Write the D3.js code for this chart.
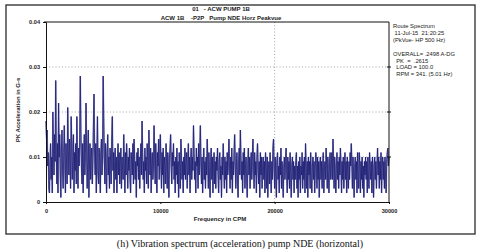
<!DOCTYPE html>
<html><head><meta charset="utf-8">
<script src="https://cdn.jsdelivr.net/npm/d3@7"></script>
<style>
html,body{margin:0;padding:0;background:#fff;}
svg{display:block;}
</style></head>
<body>
<svg id="c" width="480" height="249"></svg>
<script>
// ---- data ----
const titleLines = ["01   - ACW PUMP 1B", "ACW 1B    -P2P   Pump NDE Horz Peakvue"];
const infoLines = ["Route Spectrum", " 11-Jul-15  21:20:25", "(PkVue- HP 500 Hz)", "", "OVERALL= .2498 A-DG", "  PK  =  .2615", "  LOAD = 100.0", "  RPM = 341. (5.01 Hz)"];
const yTicks = [0, 0.01, 0.02, 0.03, 0.04];
const yTickLabels = ["0", "0.01", "0.02", "0.03", "0.04"];
const xTicks = [0, 10000, 20000, 30000];
const xTickLabels = ["0", "10000", "20000", "30000"];
const freqStartCPM = 0, freqStepCPM = 50;
// PK acceleration (G-s) per spectral line
const accel = [
.018,.014,.016,.008,.011,.003,.002,.009,.013,.005,.010,.002,.020,.012,.006,.015,.009,.027,.011,.004,
.013,.002,.022,.010,.015,.006,.001,.012,.016,.007,.003,.011,.017,.009,.002,.013,.008,.004,.021,.012,
.006,.014,.010,.003,.019,.013,.005,.009,.015,.002,.011,.007,.013,.004,.019,.010,.003,.012,.008,.014,
.028,.016,.008,.004,.013,.002,.010,.015,.006,.011,.022,.012,.003,.009,.016,.001,.008,.013,.005,.010,
.012,.004,.009,.017,.024,.011,.006,.013,.002,.010,.019,.007,.004,.012,.009,.002,.011,.014,.006,.010,
.028,.018,.010,.004,.013,.007,.002,.011,.015,.006,.010,.003,.012,.009,.004,.014,.019,.007,.011,.002,
.009,.012,.005,.010,.002,.008,.013,.006,.011,.004,.009,.012,.003,.010,.007,.005,.015,.009,.002,.011,
.006,.013,.009,.003,.010,.007,.012,.005,.002,.011,.009,.006,.013,.004,.014,.010,.005,.009,.001,.011,
.008,.012,.005,.010,.003,.009,.013,.006,.018,.011,.005,.009,.002,.012,.007,.010,.004,.013,.009,.003,
.016,.010,.006,.012,.002,.009,.011,.005,.008,.017,.010,.004,.013,.006,.002,.011,.008,.014,.005,.009,
.015,.009,.003,.011,.006,.012,.002,.010,.008,.004,.013,.009,.003,.011,.006,.001,.010,.012,.015,.008,
.004,.011,.008,.013,.005,.009,.002,.010,.006,.012,.004,.009,.001,.011,.008,.003,.014,.010,.005,.009,
.002,.010,.006,.012,.005,.009,.011,.003,.008,.013,.006,.010,.002,.009,.012,.005,.010,.007,.017,.011,
.005,.009,.002,.012,.008,.010,.003,.013,.006,.011,.017,.009,.004,.010,.002,.008,.012,.005,.009,.003,
.010,.006,.014,.009,.003,.011,.006,.001,.009,.012,.005,.010,.002,.008,.011,.004,.009,.003,.010,.007,
.012,.006,.002,.009,.011,.005,.008,.001,.010,.006,.013,.008,.003,.010,.005,.009,.002,.011,.006,.009,
.014,.008,.003,.010,.005,.012,.002,.009,.006,.011,.015,.009,.003,.008,.011,.005,.001,.009,.012,.006,
.016,.010,.005,.009,.002,.011,.006,.012,.003,.008,.010,.005,.001,.009,.012,.006,.010,.003,.008,.011,
.005,.010,.014,.008,.003,.011,.006,.009,.002,.010,.013,.008,.004,.009,.001,.011,.006,.010,.003,.008,
.010,.005,.009,.002,.011,.008,.003,.010,.001,.007,.009,.004,.011,.006,.002,.009,.005,.012,.014,.008,
.003,.010,.006,.001,.009,.011,.005,.008,.002,.010,.006,.012,.003,.009,.005,.001,.008,.010,.005,.009,
.012,.006,.002,.010,.005,.009,.003,.011,.006,.001,.008,.010,.005,.009,.002,.008,.005,.009,.011,.003,
.008,.001,.009,.005,.010,.002,.008,.006,.011,.003,.009,.005,.010,.002,.013,.008,.003,.009,.001,.010,
.006,.009,.003,.011,.005,.002,.008,.010,.005,.009,.002,.007,.011,.008,.003,.010,.005,.009,.001,.008,
.010,.005,.009,.003,.008,.011,.002,.007,.009,.005,.012,.008,.003,.010,.006,.002,.009,.011,.005,.008,
.011,.005,.014,.009,.003,.010,.006,.002,.008,.011,.005,.009,.003,.010,.006,.012,.008,.002,.009,.005,
.010,.003,.008,.011,.005,.009,.002,.010,.006,.003,.009,.005,.011,.008,.013,.009,.003,.010,.006,.001,
.008,.010,.005,.009,.002,.011,.006,.003,.011,.008,.002,.009,.005,.010,.003,.008,.001,.009,.006,.010,
.005,.009,.002,.010,.006,.003,.011,.008,.005,.009,.002,.010,.006,.001,.008,.010,.005,.009,.003,.008,
.012,.006,.010,.003,.009,.005,.011,.002,.008,.010,.005,.009,.003,.010,.006,.002,.009,.011,.012,.008,
.010
];
const freq = accel.map((_, i) => freqStartCPM + i * freqStepCPM);

// ---- layout ----
const svg = d3.select("#c");
const L = 46, R = 389, T = 22, B = 202;
const x = d3.scaleLinear().domain([0, 30000]).range([L, R]);
const y = d3.scaleLinear().domain([0, 0.04]).range([B, T]);
const labelFont = "Arial, 'Liberation Sans', sans-serif";

// outer border
svg.append("rect").attr("x", 6).attr("y", 5).attr("width", 469).attr("height", 229)
  .attr("fill", "none").attr("stroke", "#2a2a2a").attr("stroke-width", 1.3);

// gridlines
const grid = svg.append("g").attr("stroke", "#8a8a8a").attr("stroke-width", 0.8).attr("stroke-dasharray", "1,2.2");
[0.01, 0.02, 0.03].forEach(v => grid.append("line").attr("x1", L).attr("x2", R).attr("y1", y(v)).attr("y2", y(v)));
grid.append("line").attr("x1", x(20000)).attr("x2", x(20000)).attr("y1", T).attr("y2", B);

// spectrum line (soft underlay + dark core)
const line = d3.line().x((d, i) => x(freq[i])).y(d => y(d));
svg.append("path").datum(accel).attr("d", line)
  .attr("fill", "none").attr("stroke", "#8080bc").attr("stroke-width", 1.5);
svg.append("path").datum(accel).attr("d", line)
  .attr("fill", "none").attr("stroke", "#18186e").attr("stroke-width", 0.7);

// frame
const frame = svg.append("g").attr("stroke", "#111").attr("stroke-width", 1).attr("fill", "none");
frame.append("line").attr("x1", L - 2).attr("x2", R).attr("y1", T).attr("y2", T);
frame.append("line").attr("x1", R).attr("x2", R).attr("y1", T).attr("y2", B);

// axes
const yAxis = d3.axisLeft(y).tickValues(yTicks).tickFormat((d, i) => yTickLabels[i]).tickSize(3).tickPadding(3);
const gy = svg.append("g").attr("transform", `translate(${L},0)`).call(yAxis);
const xAxis = d3.axisBottom(x).tickValues(xTicks).tickFormat((d, i) => xTickLabels[i]).tickSize(2).tickPadding(5);
const gx = svg.append("g").attr("transform", `translate(0,${B})`).call(xAxis);
[gx, gy].forEach(g => {
  g.select(".domain").attr("stroke", "#111");
  g.selectAll(".tick line").attr("stroke", "#111");
  g.selectAll("text").attr("font-family", labelFont).attr("font-size", 5.6).attr("font-weight", "bold").attr("fill", "#222");
});
// right-side ticks
svg.append("g").selectAll("line").data([0.01, 0.02, 0.03]).join("line")
  .attr("x1", R - 2).attr("x2", R + 2).attr("y1", d => y(d)).attr("y2", d => y(d)).attr("stroke", "#111");

// axis titles
svg.append("text").attr("x", 220).attr("y", 221).attr("text-anchor", "middle")
  .attr("font-family", labelFont).attr("font-size", 6).attr("font-weight", "bold").attr("fill", "#222")
  .text("Frequency in CPM");
svg.append("text").attr("transform", "translate(20,110) rotate(-90)").attr("text-anchor", "middle")
  .attr("font-family", labelFont).attr("font-size", 6).attr("font-weight", "bold").attr("fill", "#222")
  .text("PK Acceleration in G-s");

// title
svg.append("g").selectAll("text").data(titleLines).join("text")
  .attr("x", 221).attr("y", (d, i) => 11 + i * 9).attr("text-anchor", "middle")
  .attr("font-family", labelFont).attr("font-size", 6).attr("font-weight", "bold").attr("fill", "#222")
  .style("white-space", "pre").text(d => d);

// info block
svg.append("g").selectAll("text").data(infoLines).join("text")
  .attr("x", 393).attr("y", (d, i) => 28 + i * 6.9)
  .attr("font-family", labelFont).attr("font-size", 5.8).attr("fill", "#222")
  .style("white-space", "pre").text(d => d);

// caption
svg.append("text").attr("x", 240).attr("y", 247).attr("text-anchor", "middle")
  .attr("font-family", "'Liberation Serif', 'Times New Roman', serif").attr("font-size", 10).attr("fill", "#111")
  .text("(h) Vibration spectrum (acceleration) pump NDE (horizontal)");
</script>
</body></html>
